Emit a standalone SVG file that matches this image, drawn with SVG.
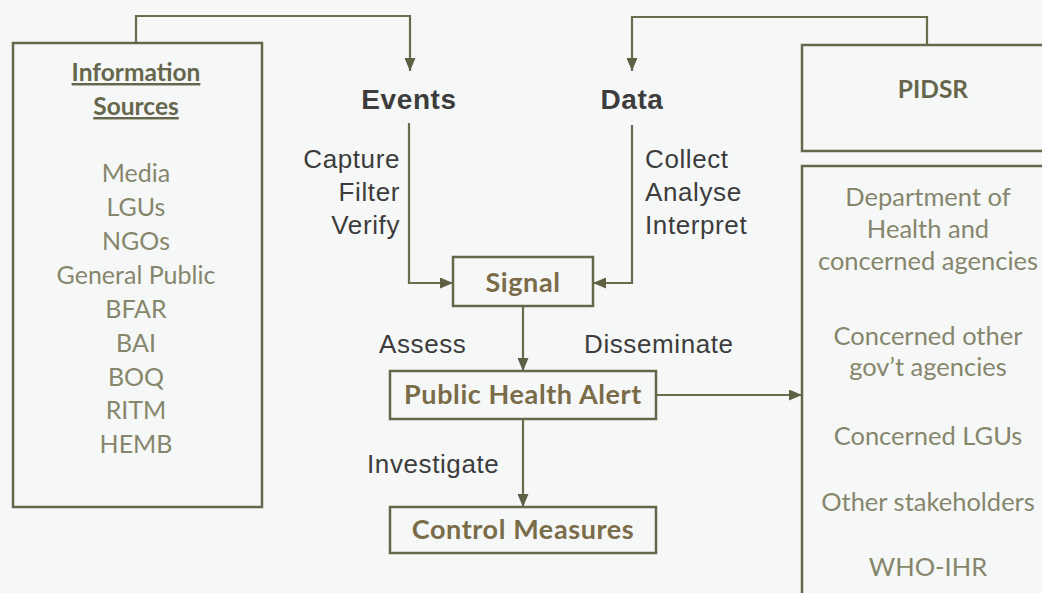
<svg xmlns="http://www.w3.org/2000/svg" width="1042" height="593" viewBox="0 0 1042 593">
  <style>
    .box { fill: none; stroke: #66664a; stroke-width: 2.5; }
    .wire { fill: none; stroke: #6b6b4e; stroke-width: 2.2; }
    .head { font-family: "Liberation Sans", Arial, sans-serif; font-weight: bold; font-size: 28px; letter-spacing: 0.6px; fill: #3c3c3c; }
    .verb { font-family: "Liberation Sans", Arial, sans-serif; font-size: 26px; letter-spacing: 0.6px; fill: #3c3c3c; }
    .title { font-family: Lato, "Open Sans", sans-serif; font-weight: bold; font-size: 24.5px; fill: #66664c; text-anchor: middle; }
    .item { font-family: Lato, "Open Sans", sans-serif; font-size: 25px; fill: #86866c; text-anchor: middle; }
    .item-r { font-size: 25.5px; }
    .step { font-family: Lato, "Open Sans", sans-serif; font-weight: bold; font-size: 27px; letter-spacing: 0.6px; fill: #7a6c48; text-anchor: middle; }
  </style>
  <defs>
    <marker id="arrow" viewBox="0 0 13 11" refX="13" refY="5.5" markerWidth="13" markerHeight="11" markerUnits="userSpaceOnUse" orient="auto">
      <path d="M0,0 L13,5.5 L0,11 Z" fill="#5f5f44"/>
    </marker>
  </defs>
  <rect width="1042" height="593" fill="#f6f8f8"/>

  <g id="connectors">
    <path class="wire" d="M136,43 V16 H410 V71" marker-end="url(#arrow)"/>
    <path class="wire" d="M927,45 V17 H632 V71" marker-end="url(#arrow)"/>
    <path class="wire" d="M409,123 V283 H453" marker-end="url(#arrow)"/>
    <path class="wire" d="M632,125 V283 H593" marker-end="url(#arrow)"/>
    <path class="wire" d="M523,306 V371" marker-end="url(#arrow)"/>
    <path class="wire" d="M656,395 H802" marker-end="url(#arrow)"/>
    <path class="wire" d="M523,419 V507" marker-end="url(#arrow)"/>
  </g>

  <g id="information-sources">
    <rect class="box" x="13" y="43" width="249" height="464"/>
    <text class="title" x="136" y="81" text-decoration="underline">Information</text>
    <text class="title" x="136" y="115" text-decoration="underline">Sources</text>
    <text class="item" x="136" y="182">Media</text>
    <text class="item" x="136" y="216">LGUs</text>
    <text class="item" x="136" y="250">NGOs</text>
    <text class="item" x="136" y="284">General Public</text>
    <text class="item" x="136" y="318">BFAR</text>
    <text class="item" x="136" y="352">BAI</text>
    <text class="item" x="136" y="386">BOQ</text>
    <text class="item" x="136" y="419">RITM</text>
    <text class="item" x="136" y="453">HEMB</text>
  </g>

  <g id="events">
    <text class="head" x="409" y="109" text-anchor="middle">Events</text>
    <text class="verb" x="400" y="168" text-anchor="end">Capture</text>
    <text class="verb" x="400" y="201" text-anchor="end">Filter</text>
    <text class="verb" x="400" y="234" text-anchor="end">Verify</text>
  </g>

  <g id="data">
    <text class="head" x="632" y="109" text-anchor="middle">Data</text>
    <text class="verb" x="645" y="168">Collect</text>
    <text class="verb" x="645" y="201">Analyse</text>
    <text class="verb" x="645" y="234">Interpret</text>
  </g>

  <g id="signal">
    <rect class="box" x="453" y="257" width="140" height="49"/>
    <text class="step" x="523" y="292">Signal</text>
  </g>

  <g id="assess-label">
    <text class="verb" x="379" y="353">Assess</text>
  </g>
  <g id="disseminate-label">
    <text class="verb" x="584" y="353">Disseminate</text>
  </g>

  <g id="public-health-alert">
    <rect class="box" x="390" y="371" width="266" height="48"/>
    <text class="step" x="523" y="404">Public Health Alert</text>
  </g>

  <g id="investigate-label">
    <text class="verb" x="367" y="473">Investigate</text>
  </g>

  <g id="control-measures">
    <rect class="box" x="390" y="507" width="266" height="46"/>
    <text class="step" x="523" y="539">Control Measures</text>
  </g>

  <g id="pidsr">
    <rect class="box" x="802" y="45" width="262" height="106"/>
    <text class="title" x="933" y="98">PIDSR</text>
  </g>

  <g id="recipients">
    <rect class="box" x="802" y="166" width="262" height="450"/>
    <text class="item item-r" x="928" y="206">Department of</text>
    <text class="item item-r" x="928" y="238">Health and</text>
    <text class="item item-r" x="928" y="270">concerned agencies</text>
    <text class="item item-r" x="928" y="345">Concerned other</text>
    <text class="item item-r" x="928" y="376">gov’t agencies</text>
    <text class="item item-r" x="928" y="445">Concerned LGUs</text>
    <text class="item item-r" x="928" y="511">Other stakeholders</text>
    <text class="item item-r" x="928" y="576">WHO-IHR</text>
  </g>
</svg>
